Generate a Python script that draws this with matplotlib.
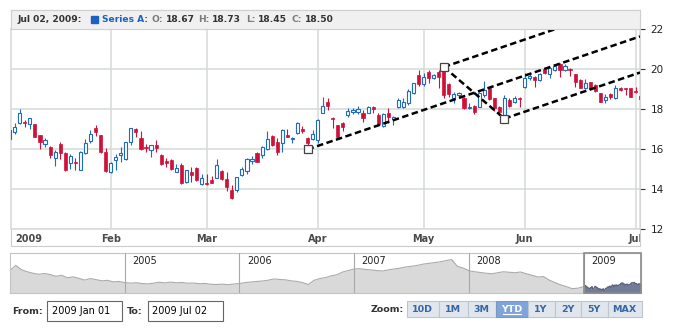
import numpy as np
import pandas as pd
import matplotlib
matplotlib.use('Agg')
import matplotlib.pyplot as plt
from matplotlib.patches import Rectangle

# trading days Jan 2 - Jul 2 2009, market holidays removed
holidays = ['2009-01-19', '2009-02-16', '2009-04-10', '2009-05-25']
dates = pd.bdate_range('2009-01-02', '2009-07-02')
dates = dates[~dates.isin(pd.to_datetime(holidays))]

opens = [16.50, 16.84, 17.28, 17.35, 17.23, 17.23, 16.70, 16.24, 16.12, 15.57,
         16.23, 15.78, 15.28, 15.35, 14.95, 15.78, 16.40, 17.07, 16.70, 15.87,
         14.83, 15.45, 15.70, 15.48, 16.37, 16.98, 16.57, 16.12, 15.95, 16.20,
         15.70, 15.42, 15.45, 14.87, 15.20, 14.33, 14.87, 15.03, 14.23, 14.32,
         14.45, 14.57, 14.90, 14.50, 13.95, 13.95, 14.70, 14.92, 15.42, 15.78,
         15.70, 15.98, 16.67, 16.33, 16.32, 16.70, 16.48, 16.78, 17.00, 16.57,
         16.48, 16.45, 17.82, 18.33, 17.57, 17.20, 17.32, 17.70, 17.87, 17.83,
         17.78, 17.82, 18.08, 17.70, 17.15, 17.78, 17.48, 18.08, 18.12, 18.28,
         18.78, 19.72, 19.23, 19.87, 19.53, 19.83, 19.95, 19.23, 18.53, 18.70,
         18.53, 18.03, 18.17, 18.12, 18.70, 19.03, 18.53, 18.12, 17.70, 18.45,
         18.37, 18.57, 19.12, 19.57, 19.62, 19.45, 20.00, 19.73, 19.95, 20.23,
         19.95, 20.00, 19.73, 19.45, 19.03, 19.33, 19.20, 18.78, 18.45, 18.75,
         18.53, 19.03, 19.07, 19.03, 18.90, 18.67]
highs = [17.00, 17.28, 17.98, 17.45, 17.57, 17.23, 16.72, 16.53, 16.17, 15.95,
         16.33, 15.87, 15.73, 15.53, 15.90, 16.48, 16.95, 17.20, 16.72, 16.03,
         15.37, 15.73, 16.12, 16.36, 17.07, 17.03, 16.90, 16.23, 16.20, 16.45,
         15.75, 15.57, 15.50, 15.23, 15.30, 14.95, 15.12, 15.10, 14.73, 14.73,
         14.67, 15.48, 14.95, 14.87, 14.20, 14.62, 15.12, 15.53, 15.65, 15.83,
         16.15, 16.92, 16.70, 16.53, 16.98, 16.98, 16.58, 17.37, 17.15, 16.60,
         16.95, 17.48, 18.62, 18.53, 17.62, 17.20, 17.37, 18.03, 18.03, 18.17,
         17.95, 18.15, 18.15, 17.78, 17.78, 18.03, 17.65, 18.53, 18.53, 18.98,
         19.32, 19.95, 19.78, 19.95, 19.73, 19.95, 20.10, 19.28, 18.83, 18.83,
         18.62, 18.28, 18.20, 18.83, 19.40, 19.12, 18.57, 18.17, 18.70, 18.53,
         18.67, 18.60, 19.78, 19.78, 19.67, 19.78, 20.05, 20.07, 20.23, 20.28,
         20.23, 20.03, 19.73, 19.50, 19.50, 19.33, 19.23, 18.80, 18.73, 18.78,
         19.20, 19.12, 19.07, 19.07, 19.12, 18.73]
lows = [16.40, 16.74, 17.25, 17.10, 17.00, 16.58, 16.00, 16.12, 15.57, 15.15,
        15.48, 14.92, 15.00, 14.95, 14.95, 15.73, 16.28, 16.67, 15.82, 14.87,
        14.78, 14.95, 15.37, 15.45, 16.20, 16.62, 15.95, 15.83, 15.62, 15.87,
        15.20, 15.12, 14.97, 14.83, 14.25, 14.28, 14.37, 14.40, 14.20, 14.20,
        14.28, 14.53, 14.45, 13.92, 13.50, 13.87, 14.67, 14.75, 15.25, 15.33,
        15.53, 15.95, 16.15, 15.70, 15.87, 16.58, 16.28, 16.75, 16.82, 16.10,
        16.45, 16.28, 17.78, 17.95, 17.03, 16.48, 16.92, 17.62, 17.75, 17.75,
        17.37, 17.78, 17.78, 17.23, 17.10, 17.28, 17.20, 18.03, 18.03, 18.20,
        18.75, 19.15, 19.17, 19.28, 19.50, 19.03, 18.55, 18.62, 18.28, 18.55,
        18.00, 18.00, 17.73, 18.08, 18.62, 18.45, 17.90, 17.70, 17.70, 18.12,
        18.28, 18.12, 19.03, 19.45, 19.12, 19.40, 19.73, 19.55, 19.90, 19.62,
        19.90, 19.67, 19.12, 19.03, 19.00, 18.95, 18.87, 18.35, 18.28, 18.52,
        18.50, 18.90, 18.70, 18.58, 18.78, 18.45]
closes = [16.95, 17.12, 17.78, 17.30, 17.53, 16.62, 16.37, 16.45, 15.70, 15.83,
          15.78, 14.95, 15.67, 15.31, 15.87, 16.32, 16.73, 16.83, 15.87, 14.90,
          15.28, 15.62, 15.82, 16.33, 17.03, 16.83, 16.00, 16.03, 16.20, 16.03,
          15.23, 15.32, 15.00, 15.03, 14.28, 14.95, 14.70, 14.45, 14.57, 14.25,
          14.32, 15.20, 14.48, 14.08, 13.53, 14.58, 14.98, 15.48, 15.48, 15.37,
          16.12, 16.48, 16.20, 15.87, 16.95, 16.62, 16.53, 17.32, 16.92, 16.28,
          16.75, 17.45, 18.15, 18.17, 17.52, 16.62, 17.12, 17.92, 17.97, 18.00,
          17.53, 18.08, 17.98, 17.25, 17.73, 17.62, 17.62, 18.45, 18.37, 18.92,
          19.28, 19.25, 19.62, 19.53, 19.70, 19.62, 18.70, 18.73, 18.73, 18.78,
          18.03, 18.12, 17.87, 18.78, 18.95, 18.50, 18.03, 17.83, 18.53, 18.17,
          18.57, 18.50, 19.53, 19.67, 19.45, 19.73, 19.78, 20.03, 20.17, 19.95,
          20.17, 19.95, 19.33, 19.07, 19.28, 19.00, 18.90, 18.37, 18.62, 18.58,
          19.07, 18.95, 18.98, 18.62, 18.83, 18.50]

# Andrews' pitchfork anchors
pitchfork_dates = ['2009-03-30', '2009-05-07', '2009-05-26']
pitchfork_values = [15.98, 20.10, 17.52]

# overview series for 2004-2008 (2009 part comes from the closes)
scroller_values = [29.6, 33.6, 30.2, 28.6, 27.4, 26.6, 27.2, 26.4, 25.0, 25.8,
                   23.8, 24.6, 23.4, 22.0, 23.2, 22.4, 21.4, 21.8, 20.6, 20.9,
                   20.0, 19.6, 19.9, 19.3, 19.0, 19.5, 20.3, 19.8, 20.4, 19.9,
                   20.1, 19.5, 19.7, 19.1, 19.3, 18.7, 18.5, 18.8, 18.4, 18.9,
                   19.3, 20.0, 20.5, 20.9, 21.3, 21.9, 22.9, 22.5, 22.2, 21.4,
                   21.0, 20.0, 18.5, 21.8, 23.2, 24.0, 25.4, 26.2, 28.4, 29.6,
                   30.8, 31.0, 30.4, 30.0, 29.5, 29.2, 30.1, 30.8, 31.4, 32.4,
                   32.9, 33.6, 34.6, 35.2, 35.8, 36.4, 37.4, 38.2, 32.8, 31.5,
                   29.4, 28.6, 28.0, 27.4, 27.0, 27.8, 28.6, 28.2, 27.8, 28.4,
                   27.0, 25.8, 24.4, 24.8, 22.0, 20.0, 18.2, 16.8, 15.2, 15.6]
scroller_years = [2005, 2006, 2007, 2008, 2009]

zoom_buttons = ['10D', '1M', '3M', 'YTD', '1Y', '2Y', '5Y', 'MAX']

W, H = 700, 330
GRID = '#d6dbd6'
BLUE = '#1f6cbf'
RED = '#cf1139'


def box(x0, y0, x1, y1):
    # pixel rectangle (top-left origin) -> figure fraction
    return [x0 / W, 1 - y1 / H, (x1 - x0) / W, (y1 - y0) / H]


fig = plt.figure(figsize=(W / 100, H / 100), dpi=100)

# pixel overlay for the frame and the range controls
ov = fig.add_axes([0, 0, 1, 1])
ov.set_xlim(0, W)
ov.set_ylim(H, 0)
ov.axis('off')
ov.add_patch(Rectangle((11, 10), 629, 236, fill=False, ec='#cccccc', lw=0.8))

# ---- main candlestick plot ----
ax = fig.add_axes(box(11, 29, 640, 229))
idx = np.arange(len(dates))
o, h, l, c = map(np.array, (opens, highs, lows, closes))
up = c >= o
ax.vlines(idx[up], l[up], h[up], color=BLUE, lw=0.8, zorder=3)
ax.vlines(idx[~up], l[~up], h[~up], color=RED, lw=0.8, zorder=3)
ax.bar(idx[up], c[up] - o[up], bottom=o[up], width=0.62,
       facecolor='white', edgecolor=BLUE, lw=0.8, zorder=4)
ax.bar(idx[~up], o[~up] - c[~up], bottom=c[~up], width=0.62,
       facecolor=RED, edgecolor=RED, lw=0.5, zorder=4)

ax.set_xlim(0.26, 124.86)
ax.set_ylim(12, 22)
ax.set_yticks(range(12, 23, 2))
ax.yaxis.tick_right()
ax.tick_params(axis='y', length=3.6, width=0.8, color='#333333',
               labelsize=7.5, labelcolor='#222222', pad=4)
ax.tick_params(axis='x', bottom=False, labelbottom=False)
ax.grid(axis='y', color=GRID, lw=1.1, zorder=0)
for s in ax.spines.values():
    s.set_color(GRID)
    s.set_linewidth(1.1)

month_starts = np.flatnonzero(np.r_[True, dates.month[1:] != dates.month[:-1]])
ax.vlines(month_starts[1:], 12, 22, color=GRID, lw=1.1, zorder=0)

# pitchfork: median from the pivot, parallels from the other two anchors
pf_i = np.array([dates.get_loc(pd.Timestamp(d)) for d in pitchfork_dates], float)
pf_v = np.array(pitchfork_values)
slope = (pf_v[1:].mean() - pf_v[0]) / (pf_i[1:].mean() - pf_i[0])
x_end = ax.get_xlim()[1]
dash = dict(color='black', lw=1.8, linestyle=(0, (2.6, 1.4)), zorder=6)
for xi, vi in zip(pf_i, pf_v):
    ax.plot([xi, x_end], [vi, vi + slope * (x_end - xi)], **dash)
ax.plot(pf_i[1:], pf_v[1:], **dash)
ax.plot(pf_i, pf_v, 's', ms=5.5, mfc='white', mec='#444444', mew=0.9,
        zorder=7, clip_on=False)

# month labels under the plot
axl = fig.add_axes(box(11, 229, 640, 246))
axl.set_xlim(ax.get_xlim())
axl.set_ylim(0, 1)
axl.axis('off')
for k, m in enumerate(month_starts):
    if k == 0:
        axl.text(0.26 + 0.8, 0.4, str(dates[m].year), ha='left', va='center',
                 fontsize=7, fontweight='bold', color='#4a4a4a', clip_on=True)
    else:
        axl.text(m, 0.4, dates[m].strftime('%b'), ha='center', va='center',
                 fontsize=7, fontweight='bold', color='#4a4a4a', clip_on=True)

# ---- header with the last bar's values ----
hdr = fig.add_axes(box(11, 10, 640, 29))
hdr.set_xlim(11, 640)
hdr.set_ylim(29, 10)
hdr.set_xticks([])
hdr.set_yticks([])
hdr.set_facecolor('#f0f0f0')
for s in hdr.spines.values():
    s.set_color('#cfcfcf')
    s.set_linewidth(0.8)
hk = dict(fontsize=6.6, fontweight='bold', va='center')
hdr.text(17, 19.5, f'{dates[-1]:%b %d, %Y}:', color='#333333', **hk)
hdr.add_patch(Rectangle((90.5, 16), 7, 7, color='#1a62c4'))
hdr.text(102, 19.5, 'Series A:', color='#1a62c4', **hk)
for x_lab, x_val, lab, val in [(151, 165.5, 'O:', o[-1]), (198, 212, 'H:', h[-1]),
                               (246, 258, 'L:', l[-1]), (291.5, 304.5, 'C:', c[-1])]:
    hdr.text(x_lab, 19.5, lab, color='#7a7a7a', **hk)
    hdr.text(x_val, 19.5, f'{val:.2f}', color='#333333', **hk)

# ---- overview scroller ----
sc = fig.add_axes(box(10, 253, 641, 293))
yr_prev = np.linspace(2004, 2009, len(scroller_values), endpoint=False)
yr_2009 = 2009 + np.asarray((dates - pd.Timestamp('2009-01-01')).days) / 365
x_all = np.r_[yr_prev, yr_2009]
v_all = np.r_[scroller_values, closes]
y0, y1 = 11.8, 43.4
sc.set_xlim(2004, 2009.5)
sc.set_ylim(y0, y1)
sc.fill_between(x_all, v_all, y0, color='#d9d9d9', lw=0, zorder=1)
sc.plot(x_all, v_all, color='#ababab', lw=0.8, zorder=2)
sel = Rectangle((2009, y0), 0.5, y1 - y0, transform=sc.transData)
dark = sc.fill_between(x_all, v_all, y0, color='#717c98', lw=0, zorder=3)
dark.set_clip_path(sel)
dline, = sc.plot(x_all, v_all, color='#56617d', lw=0.8, zorder=4)
dline.set_clip_path(sel)
for yr in scroller_years:
    sc.axvline(yr, color='#a8a8a8', lw=0.8, zorder=5)
    sc.text(yr + 0.064, 37.4, str(yr), fontsize=7, color='#222222',
            va='center', zorder=6)
sc.set_xticks([])
sc.set_yticks([])
for s in sc.spines.values():
    s.set_color('#c4c4c4')
    s.set_linewidth(0.8)
sc.add_patch(Rectangle((2009, y0), 0.5, y1 - y0, fill=False, ec='#8c8c8c',
                       lw=1.2, zorder=7, clip_on=False))

# ---- range inputs and zoom buttons ----
lk = dict(fontsize=6.8, fontweight='bold', color='#333333', va='center')
ov.text(12.5, 311, 'From:', **lk)
ov.add_patch(Rectangle((46.5, 301), 75.5, 20, fc='white', ec='#666666', lw=0.8))
ov.text(51.5, 311.5, '2009 Jan 01', fontsize=7, color='black', va='center')
ov.text(127, 311, 'To:', **lk)
ov.add_patch(Rectangle((148, 301), 75, 20, fc='white', ec='#666666', lw=0.8))
ov.text(152.5, 311.5, '2009 Jul 02', fontsize=7, color='black', va='center')
ov.text(371, 310, 'Zoom:', **lk)

widths = [32, 29, 28, 32, 27, 26, 27, 34]
bx = 406.5
for name, w in zip(zoom_buttons, widths):
    active = name == 'YTD'
    ov.add_patch(Rectangle((bx, 301), w, 16,
                           fc='#7fa4da' if active else '#e1e6ed',
                           ec='#7b96bf' if active else '#bcc6d2', lw=0.8))
    ov.text(bx + w / 2, 309.5, name, ha='center', va='center', fontsize=6.8,
            fontweight='bold', color='white' if active else '#3566a6')
    if active:
        ov.plot([bx + 7, bx + w - 7], [314, 314], color='white', lw=0.8)
    bx += w

fig.savefig('out.png', dpi=100)
